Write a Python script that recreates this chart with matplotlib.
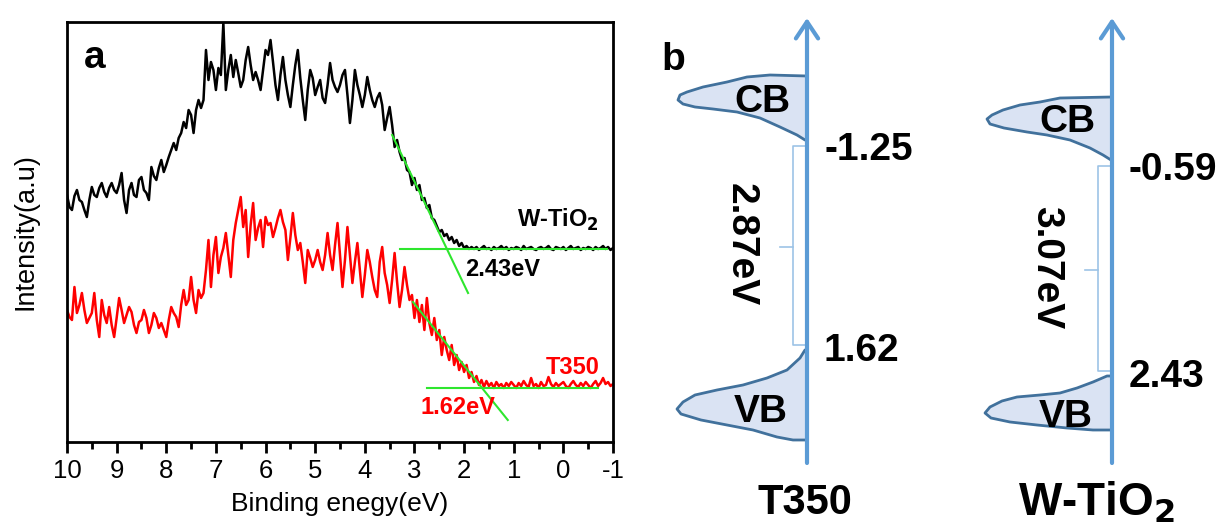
import numpy as np
import matplotlib.pyplot as plt
from matplotlib.patches import Polygon

plt.rcParams['font.family'] = ['Liberation Sans', 'DejaVu Sans']

# ---- panel a: valence band spectra, 10 eV down to -1 eV, 0.05 eV step
energy = np.round(np.arange(10.0, -1.0001, -0.05), 2)

w_tio2_read = [
    195, 207, 210, 196, 190, 200, 202, 210, 217, 200, 187, 195, 197, 188, 183, 192, 197, 188, 183, 190,
    193, 185, 173, 200, 213, 190, 183, 195, 197, 180, 177, 190, 193, 200, 167, 176, 180, 168, 160, 172,
    165, 157, 150, 143, 150, 138, 133, 122, 128, 110, 115, 133, 110, 100, 108, 100, 50, 80, 62, 70,
    90, 68, 75, 23, 90, 70, 55, 77, 60, 73, 87, 80, 60, 47, 65, 80, 72, 80, 90, 70,
    50, 55, 40, 62, 85, 100, 75, 57, 80, 95, 107, 85, 65, 50, 78, 100, 120, 90, 70, 78,
    95, 87, 80, 98, 103, 85, 63, 80, 87, 92, 85, 75, 70, 95, 123, 100, 70, 85, 95, 107,
    95, 77, 90, 100, 107, 98, 93, 105, 130, 118, 107, 125, 147, 140, 152, 160, 158, 170, 172, 185,
    178, 190, 185, 200, 198, 208, 205, 218, 220, 226, 232, 230, 236, 234, 240, 237, 243, 240, 246, 243,
    248, 246, 249, 247, 249, 247, 250, 248, 246, 249, 248, 250, 247, 249, 248, 246, 249, 247, 250, 248,
    249, 247, 248, 250, 246, 249, 248, 247, 249, 250, 248, 247, 249, 248, 246, 249, 250, 247, 248, 249,
    247, 250, 248, 246, 249, 248, 247, 250, 248, 249, 247, 248, 250, 247, 249, 248, 246, 249, 247, 250,
    248,
]
t350_read = [
    310, 317, 320, 287, 313, 305, 293, 310, 323, 318, 313, 293, 320, 337, 300, 315, 323, 307, 325, 337,
    318, 298, 310, 323, 315, 307, 312, 325, 333, 322, 320, 310, 318, 333, 325, 313, 318, 328, 323, 330,
    337, 320, 307, 313, 317, 327, 305, 290, 305, 300, 277, 300, 313, 290, 298, 293, 270, 240, 287, 255,
    237, 273, 257, 248, 233, 255, 277, 240, 223, 210, 197, 227, 210, 257, 225, 203, 240, 228, 220, 247,
    217, 225, 223, 237, 228, 218, 210, 222, 230, 260, 238, 213, 235, 250, 243, 262, 283, 250, 258, 267,
    260, 250, 262, 270, 255, 233, 255, 270, 245, 223, 255, 287, 260, 227, 255, 283, 262, 243, 270, 297,
    275, 250, 262, 277, 290, 297, 262, 247, 273, 285, 303, 280, 253, 282, 307, 290, 267, 285, 300, 295,
    318, 300, 322, 305, 330, 298, 323, 335, 318, 340, 330, 355, 337, 350, 360, 345, 365, 355, 370, 362,
    372, 365, 378, 372, 382, 376, 385, 380, 387, 381, 386, 383, 388, 382, 386, 384, 388, 383, 386, 382,
    385, 388, 383, 386, 381, 385, 387, 378, 386, 384, 388, 382, 386, 385, 377, 384, 387, 383, 386, 384,
    382, 386, 388, 384, 381, 385, 387, 383, 386, 382, 385, 388, 384, 381, 386, 383, 378, 384, 382, 386,
    384,
]
assert len(w_tio2_read) == len(energy) and len(t350_read) == len(energy)
w_tio2 = 442 - np.array(w_tio2_read)
t350 = 442 - np.array(t350_read)

# linear fits of the leading edge and the baseline
w_fit_e, w_fit_i = [3.45, 1.92], [307, 149]
w_base_e, w_base_i = [3.29, -0.88], [193, 193]
t_fit_e, t_fit_i = [3.03, 1.12], [140, 22]
t_base_e, t_base_i = [2.75, -0.70], [54, 54]
w_vbm, t_vbm = 2.43, 1.62

# ---- panel b: band positions
samples = ['T350', 'W-TiO$_\\mathbf{2}$']
cb_edge = [-1.25, -0.59]
vb_edge = [1.62, 2.43]
band_gap = [2.87, 3.07]

fig = plt.figure(figsize=(12.27, 5.3), dpi=100)
green = '#2ee62e'

ax = fig.add_axes([67 / 1227, 1 - 442 / 530, 546 / 1227, 420 / 530])
ax.plot(energy, w_tio2, color='black', lw=1.8)
ax.plot(energy, t350, color='red', lw=1.8)
ax.plot(w_fit_e, w_fit_i, color=green, lw=1.5)
ax.plot(w_base_e, w_base_i, color=green, lw=1.5)
ax.plot(t_fit_e, t_fit_i, color=green, lw=1.5)
ax.plot(t_base_e, t_base_i, color=green, lw=1.5)
ax.text(1.22, 172, '%.2feV' % w_vbm, fontsize=17, fontweight='bold', ha='center', va='center')
ax.text(0.11, 222, 'W-TiO$_\\mathbf{2}$', fontsize=17, fontweight='bold', ha='center', va='center')
ax.text(-0.19, 75, 'T350', fontsize=17, fontweight='bold', color='red', ha='center', va='center')
ax.text(2.12, 35, '%.2feV' % t_vbm, fontsize=17, fontweight='bold', color='red', ha='center', va='center')
ax.text(0.03, 0.915, 'a', transform=ax.transAxes, fontsize=28, fontweight='bold', va='center')

ax.set_xlim(10, -1)
ax.set_ylim(0, 420)
ax.set_xticks(np.arange(10, -2, -1))
ax.set_xticklabels([str(v) for v in range(10, -2, -1)])
ax.set_xticks(np.arange(9.5, -1, -1), minor=True)
ax.set_yticks([])
ax.tick_params(axis='x', which='major', direction='out', length=8, width=2, labelsize=18.5, pad=4)
ax.tick_params(axis='x', which='minor', direction='out', length=5, width=2)
for s in ax.spines.values():
    s.set_linewidth(2)
ax.set_xlabel('Binding enegy(eV)', fontsize=19)
ax.set_ylabel('Intensity(a.u)', fontsize=19.5)
ax.xaxis.set_label_coords(0.5, -0.118)
ax.yaxis.set_label_coords(-0.053, 0.5)

# ---- panel b drawn in a full-figure pixel frame
bx = fig.add_axes([0, 0, 1, 1], zorder=-1)
bx.set_xlim(0, 1227)
bx.set_ylim(530, 0)
bx.axis('off')

axis_x = [807, 1112]
cb_y = [140, 160]
vb_y = [350, 376]
vb_label_y = [412, 417]
name_x = [805, 1096]
name_size = [30, 33]
arrow_top, arrow_bottom = 18, 463
blue = '#5b9bd5'
edge = '#41719c'
fill = '#dae3f3'

cb_shapes = [
    [(0, 0), (0, -64), (-37, -65), (-60, -63), (-80, -58), (-104, -53), (-120, -48), (-127, -45),
     (-129, -40), (-124, -36), (-112, -33), (-94, -31), (-70, -28), (-47, -22), (-27, -13), (-10, -5), (-2, 0)],
    [(0, 0), (0, -63), (-52, -62), (-72, -58), (-92, -55), (-109, -50), (-120, -45), (-125, -41),
     (-122, -36), (-108, -32), (-85, -28), (-65, -25), (-42, -20), (-22, -12), (-9, -5), (-1, 0)],
]
vb_shapes = [
    [(0, 0), (-2, 0), (-7, 8), (-20, 20), (-40, 28), (-64, 35), (-90, 40), (-112, 45), (-124, 52),
     (-130, 59), (-126, 64), (-106, 70), (-80, 75), (-54, 80), (-30, 87), (-14, 90), (0, 90)],
    [(0, 0), (-5, 0), (-19, 6), (-35, 12), (-52, 17), (-72, 19), (-95, 21), (-110, 25), (-122, 31),
     (-127, 37), (-121, 42), (-102, 46), (-75, 49), (-45, 52), (-19, 54), (0, 54)],
]

for i in range(len(samples)):
    x0 = axis_x[i]
    for shape, y0 in ((cb_shapes[i], cb_y[i]), (vb_shapes[i], vb_y[i])):
        pts = [(x0 + dx, y0 + dy) for dx, dy in shape]
        bx.add_patch(Polygon(pts, closed=True, facecolor=fill, edgecolor=edge, lw=2, joinstyle='round'))
    bx.annotate('', xy=(x0, arrow_top), xytext=(x0, arrow_bottom),
                arrowprops=dict(arrowstyle='->,head_length=0.6,head_width=0.4', lw=3,
                                color=blue, mutation_scale=20, shrinkA=0, shrinkB=0))
    mid = (cb_y[i] + vb_y[i]) / 2
    # bracket over the gap
    bx.plot([x0 - 2, x0 - 14, x0 - 14, x0 - 2], [cb_y[i] + 6, cb_y[i] + 6, vb_y[i] - 5, vb_y[i] - 5],
            color='#9dc3e6', lw=1.2)
    bx.plot([x0 - 14, x0 - 27], [mid + 2, mid + 2], color='#9dc3e6', lw=1.2)
    bx.text(x0 - 45, cb_y[i] - 38, 'CB', fontsize=28, fontweight='bold', ha='center', va='center')
    bx.text(x0 - 46, vb_label_y[i], 'VB', fontsize=28, fontweight='bold', ha='center', va='center')
    bx.text(x0 + 17, cb_y[i] + 10, '%.2f' % cb_edge[i], fontsize=28, fontweight='bold', va='center')
    bx.text(x0 + 17, vb_y[i] + 1, '%.2f' % vb_edge[i], fontsize=28, fontweight='bold', va='center')
    bx.text(x0 - 66, mid, '%.2feV' % band_gap[i], fontsize=28, fontweight='bold', rotation=270,
            ha='center', va='center')
    bx.text(name_x[i], 503, samples[i], fontsize=name_size[i], fontweight='bold', ha='center', va='center')

bx.text(673, 60, 'b', fontsize=28, fontweight='bold', ha='center', va='center')

fig.savefig('out.png', dpi=100)
